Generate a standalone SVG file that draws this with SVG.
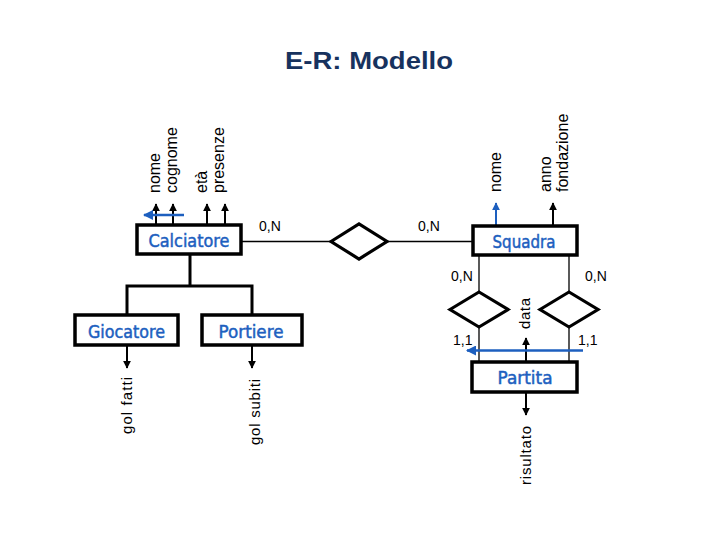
<svg xmlns="http://www.w3.org/2000/svg" width="720" height="540" viewBox="0 0 720 540">
<defs>
<marker id="ah" viewBox="0 0 10 10" refX="9" refY="5" markerWidth="4" markerHeight="4" orient="auto" markerUnits="strokeWidth"><path d="M0,0 L10,5 L0,10 z" fill="#000"/></marker>
<marker id="ahb" viewBox="0 0 10 10" refX="9" refY="5" markerWidth="4" markerHeight="4" orient="auto" markerUnits="strokeWidth"><path d="M0,0 L10,5 L0,10 z" fill="#1d5fbf"/></marker>
<style>
.ent{fill:#fff;stroke:#000;stroke-width:3.5}
.rel{fill:#fff;stroke:#000;stroke-width:3.2}
.en{font-family:"DejaVu Sans",Verdana,sans-serif;font-size:17px;fill:#1d5fbf;stroke:#1d5fbf;stroke-width:0.5;text-anchor:middle}
.at{font-family:"Liberation Sans",Arial,sans-serif;font-size:16px;fill:#000}
.at2{font-family:"Liberation Sans",Arial,sans-serif;font-size:15px;fill:#000}
.card{font-family:"Liberation Sans",Arial,sans-serif;font-size:14px;fill:#000}
.ln{stroke:#000;stroke-width:1.3;fill:none}
.hl{stroke:#000;stroke-width:3;fill:none}
.ar{stroke:#000;stroke-width:2;fill:none;marker-end:url(#ah)}
.arb{stroke:#1d5fbf;stroke-width:2.5;fill:none;marker-end:url(#ahb)}
.title{font-family:"Liberation Sans",Arial,sans-serif;font-weight:bold;font-size:23px;fill:#17325e;text-anchor:middle}
</style>
</defs>
<rect width="720" height="540" fill="#fff"/>
<text class="title" x="369" y="69" textLength="168" lengthAdjust="spacingAndGlyphs">E-R: Modello</text>

<g id="connectors">
<line class="ln" x1="241" y1="241.5" x2="331" y2="241.5"/>
<line class="ln" x1="387" y1="241.5" x2="473" y2="241.5"/>
<line class="ln" x1="479" y1="255" x2="479" y2="292"/>
<line class="ln" x1="479" y1="327" x2="479" y2="362"/>
<line class="ln" x1="569" y1="255" x2="569" y2="292"/>
<line class="ln" x1="569" y1="327" x2="569" y2="362"/>
<polyline class="hl" points="190,254 190,286"/>
<polyline class="hl" points="127,315 127,286 252,286 252,315"/>
<line class="ar" x1="156" y1="225" x2="156" y2="204"/>
<line class="ar" x1="173" y1="225" x2="173" y2="204"/>
<line class="ar" x1="207" y1="225" x2="207" y2="204"/>
<line class="ar" x1="225" y1="225" x2="225" y2="204"/>
<line class="arb" x1="184" y1="215" x2="144" y2="215"/>
<line class="arb" x1="496" y1="226" x2="496" y2="203" style="stroke-width:2"/>
<line class="ar" x1="553" y1="226" x2="553" y2="203"/>
<line class="ar" x1="127" y1="345" x2="127" y2="368"/>
<line class="ar" x1="252" y1="345" x2="252" y2="368"/>
<line class="ar" x1="526" y1="362" x2="526" y2="338"/>
<line class="ar" x1="526" y1="392" x2="526" y2="415"/>
<line class="arb" x1="583" y1="350.5" x2="467" y2="350.5"/>
</g>

<g id="calciatore">
<rect class="ent" x="137" y="225" width="104" height="29"/>
<text class="en" x="189" y="247" textLength="81" lengthAdjust="spacingAndGlyphs">Calciatore</text>
<text class="at" transform="translate(160,193) rotate(-90)">nome<tspan x="0" dy="17">cognome</tspan></text>
<text class="at" transform="translate(207,193) rotate(-90)">età<tspan x="0" dy="17">presenze</tspan></text>
</g>

<g id="rel-calciatore-squadra">
<polygon class="rel" points="331,241.5 359,224 387,241.5 359,259"/>
<text class="card" x="259" y="231">0,N</text>
<text class="card" x="418" y="231">0,N</text>
</g>

<g id="squadra">
<rect class="ent" x="473" y="226" width="104" height="29"/>
<text class="en" x="524" y="248" textLength="63" lengthAdjust="spacingAndGlyphs">Squadra</text>
<text class="at" transform="translate(501,192) rotate(-90)">nome</text>
<text class="at" transform="translate(551,192) rotate(-90)">anno<tspan x="0" dy="17">fondazione</tspan></text>
</g>

<g id="rel-casa">
<polygon class="rel" points="450,309.5 479,292 508,309.5 479,327"/>
<text class="card" x="451" y="281">0,N</text>
<text class="card" x="453" y="345">1,1</text>
</g>

<g id="rel-ospite">
<polygon class="rel" points="540,309.5 569,292 598,309.5 569,327"/>
<text class="card" x="585" y="281">0,N</text>
<text class="card" x="578" y="345">1,1</text>
</g>

<g id="partita">
<rect class="ent" x="472" y="362" width="105" height="30"/>
<text class="en" x="525" y="384" textLength="55" lengthAdjust="spacingAndGlyphs">Partita</text>
<text class="at2" transform="translate(530,329) rotate(-90)" textLength="31" lengthAdjust="spacing">data</text>
<text class="at2" transform="translate(531,485) rotate(-90)" textLength="59" lengthAdjust="spacing">risultato</text>
</g>

<g id="giocatore">
<rect class="ent" x="75" y="315" width="103" height="30"/>
<text class="en" x="126.5" y="337.5" textLength="77" lengthAdjust="spacingAndGlyphs">Giocatore</text>
<text class="at2" transform="translate(132,434) rotate(-90)" textLength="57" lengthAdjust="spacing">gol fatti</text>
</g>

<g id="portiere">
<rect class="ent" x="202" y="315" width="100" height="30"/>
<text class="en" x="251" y="337.5" textLength="65" lengthAdjust="spacingAndGlyphs">Portiere</text>
<text class="at2" transform="translate(260,445) rotate(-90)" textLength="66" lengthAdjust="spacing">gol subiti</text>
</g>
</svg>
